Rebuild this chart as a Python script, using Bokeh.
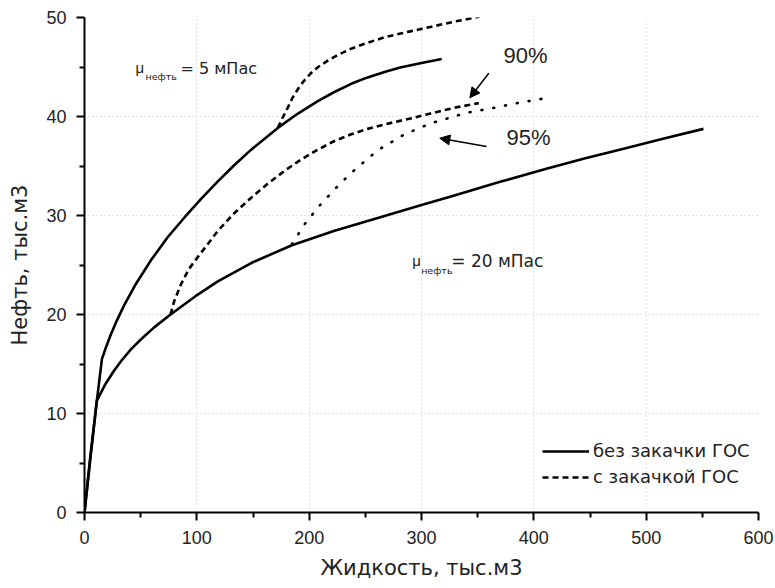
from bokeh.plotting import figure
from bokeh.models import (Range1d, FixedTicker, Legend, LegendItem, Arrow, NormalHead)
from bokeh.core.properties import value
from bokeh.embed import file_html
from bokeh.resources import INLINE

# ---- data ----
# solid, mu = 5 mPas, without injection
x_a = [0, 5, 11, 15.5, 19.3, 23, 28, 35.6, 45, 59.3, 74, 89, 104, 118.7, 133, 148.4,
       172.1, 190, 207.7, 222, 237.4, 252, 267.1, 281, 300, 318]
y_a = [0, 5.5, 11.3, 15.5, 16.75, 17.86, 19.2, 21.0, 22.95, 25.5, 27.8, 29.8, 31.7, 33.45, 35.05, 36.65,
       38.85, 40.3, 41.55, 42.45, 43.3, 43.95, 44.5, 44.95, 45.4, 45.8]
# dashed, mu = 5 mPas, with injection
x_ad = [172.1, 176, 181, 185, 189.9, 195, 201.8, 208, 216.6, 226, 237.4, 252, 267.1, 290, 308, 330, 352]
y_ad = [38.85, 39.8, 40.9, 41.85, 42.75, 43.55, 44.4, 45.0, 45.65, 46.25, 46.85, 47.45, 48.0, 48.6, 49.05, 49.6, 50.1]
# solid, mu = 20 mPas, without injection
x_b = [0, 5, 11, 18, 26.1, 33, 41.5, 49.9, 62, 76.6, 98.8, 118.7, 148.4, 184.6, 222.6, 267.1,
       300, 330, 370, 412, 445, 480, 515, 551]
y_b = [0, 5.2, 11.3, 12.85, 14.3, 15.35, 16.5, 17.45, 18.7, 20.0, 21.85, 23.35, 25.2, 27.0, 28.45, 29.95,
       31.05, 32.05, 33.4, 34.75, 35.75, 36.75, 37.75, 38.75]
# dashed, mu = 20 mPas, 90%
x_b90 = [76.6, 80, 86.1, 93, 100.9, 118.7, 133, 148.4, 163, 178, 192, 207.7, 222, 237.4, 252, 267.1,
         290, 308, 330, 351]
y_b90 = [20.0, 21.4, 23.1, 24.6, 25.8, 28.45, 30.2, 31.8, 33.2, 34.5, 35.6, 36.65, 37.5, 38.2, 38.75, 39.2,
         39.8, 40.3, 40.9, 41.35]
# dotted, mu = 20 mPas, 95%
x_b95 = [184.6, 195.8, 209.2, 224, 237.4, 253.7, 262.6, 285, 308, 341, 361, 385, 408]
y_b95 = [27.1, 29.1, 31.0, 32.8, 34.3, 35.9, 36.7, 38.2, 39.3, 40.4, 40.8, 41.35, 41.8]

x_ticks = [0, 100, 200, 300, 400, 500, 600]
y_ticks = [0, 10, 20, 30, 40, 50]
x_minor = [50, 150, 250, 350, 450, 550]
y_minor = [5, 15, 25, 35, 45]

series_labels = ["без закачки ГОС", "с закачкой ГОС"]
x_title = "Жидкость, тыс.м3"
y_title = "Нефть, тыс.м3"

FONT = "Liberation Sans"   # digits
CYR = "DejaVu Sans"        # cyrillic texts (wider, as in the picture)
TXT = "#222222"

p = figure(width=775, height=588, output_backend="svg", toolbar_location=None,
           x_range=Range1d(0, 600), y_range=Range1d(0, 50),
           min_border_left=84, min_border_right=17, min_border_top=17, min_border_bottom=76)
p.outline_line_color = None
p.background_fill_color = "white"

for ax, ticks, minor in ((p.xaxis[0], x_ticks, x_minor), (p.yaxis[0], y_ticks, y_minor)):
    ax.ticker = FixedTicker(ticks=ticks, minor_ticks=minor)
    ax.axis_line_width = 2
    ax.major_tick_line_width = 2
    ax.minor_tick_line_width = 2
    ax.major_tick_in = 0
    ax.major_tick_out = 8
    ax.minor_tick_in = 0
    ax.minor_tick_out = 5
    ax.major_label_text_font = FONT
    ax.major_label_text_font_size = "18px"
    ax.major_label_text_color = TXT
    ax.axis_label_text_font = CYR
    ax.axis_label_text_font_size = "21px"
    ax.axis_label_text_font_style = "normal"
    ax.axis_label_text_color = TXT
    ax.major_label_standoff = 10

p.xaxis.axis_label = x_title
p.yaxis.axis_label = y_title
p.xaxis.axis_label_standoff = 9
p.yaxis.axis_label_standoff = 11

for g in (p.xgrid[0], p.ygrid[0]):
    g.grid_line_color = "#c8c8c8"
    g.grid_line_dash = "1 3"
    g.grid_line_width = 1

LW = 2.6
r_a = p.line(x_a, y_a, line_color="black", line_width=LW, line_join="round")
r_b = p.line(x_b, y_b, line_color="black", line_width=LW, line_join="round")
r_ad = p.line(x_ad, y_ad, line_color="black", line_width=LW, line_dash="6 4")
r_b90 = p.line(x_b90, y_b90, line_color="black", line_width=LW, line_dash="6 4")
r_b95 = p.line(x_b95, y_b95, line_color="black", line_width=LW, line_dash="1 11", line_cap="round")

# annotations
p.text([45.4], [44.1], text=["μ"], text_font=value(FONT), text_font_size="15px", text_color=TXT)
p.text([54.3], [43.5], text=["нефть"], text_font=value(CYR), text_font_size="9.5px", text_color=TXT)
p.text([85.5], [43.87], text=["= 5 мПас"], text_font=value(CYR), text_font_size="16px", text_color=TXT)

p.text([291.7], [24.55], text=["μ"], text_font=value(FONT), text_font_size="15px", text_color=TXT)
p.text([299.7], [23.84], text=["нефть"], text_font=value(CYR), text_font_size="9.5px", text_color=TXT)
p.text([326.5], [24.44], text=["= 20 мПас"], text_font=value(CYR), text_font_size="17px", text_color=TXT)

p.text([373], [44.85], text=["90%"], text_font=value(FONT), text_font_size="22px", text_color=TXT)
p.text([375.7], [36.57], text=["95%"], text_font=value(FONT), text_font_size="22px", text_color=TXT)

p.add_layout(Arrow(x_start=359.9, y_start=44.37, x_end=343.0, y_end=41.89, line_width=1.5,
                   end=NormalHead(size=10, fill_color="black", line_color="black")))
p.add_layout(Arrow(x_start=357.9, y_start=36.97, x_end=316.3, y_end=37.81, line_width=1.5,
                   end=NormalHead(size=10, fill_color="black", line_color="black")))

legend = Legend(items=[LegendItem(label=series_labels[0], renderers=[r_a]),
                       LegendItem(label=series_labels[1], renderers=[r_ad])],
                location=(458, 25), margin=0, padding=0, spacing=5,
                glyph_width=47, glyph_height=20, label_height=20, label_standoff=4,
                label_text_font=CYR, label_text_font_size="18px", label_text_color=TXT,
                border_line_alpha=0, background_fill_alpha=0)
p.add_layout(legend)

open("out.html", "w").write(file_html(p, INLINE))
